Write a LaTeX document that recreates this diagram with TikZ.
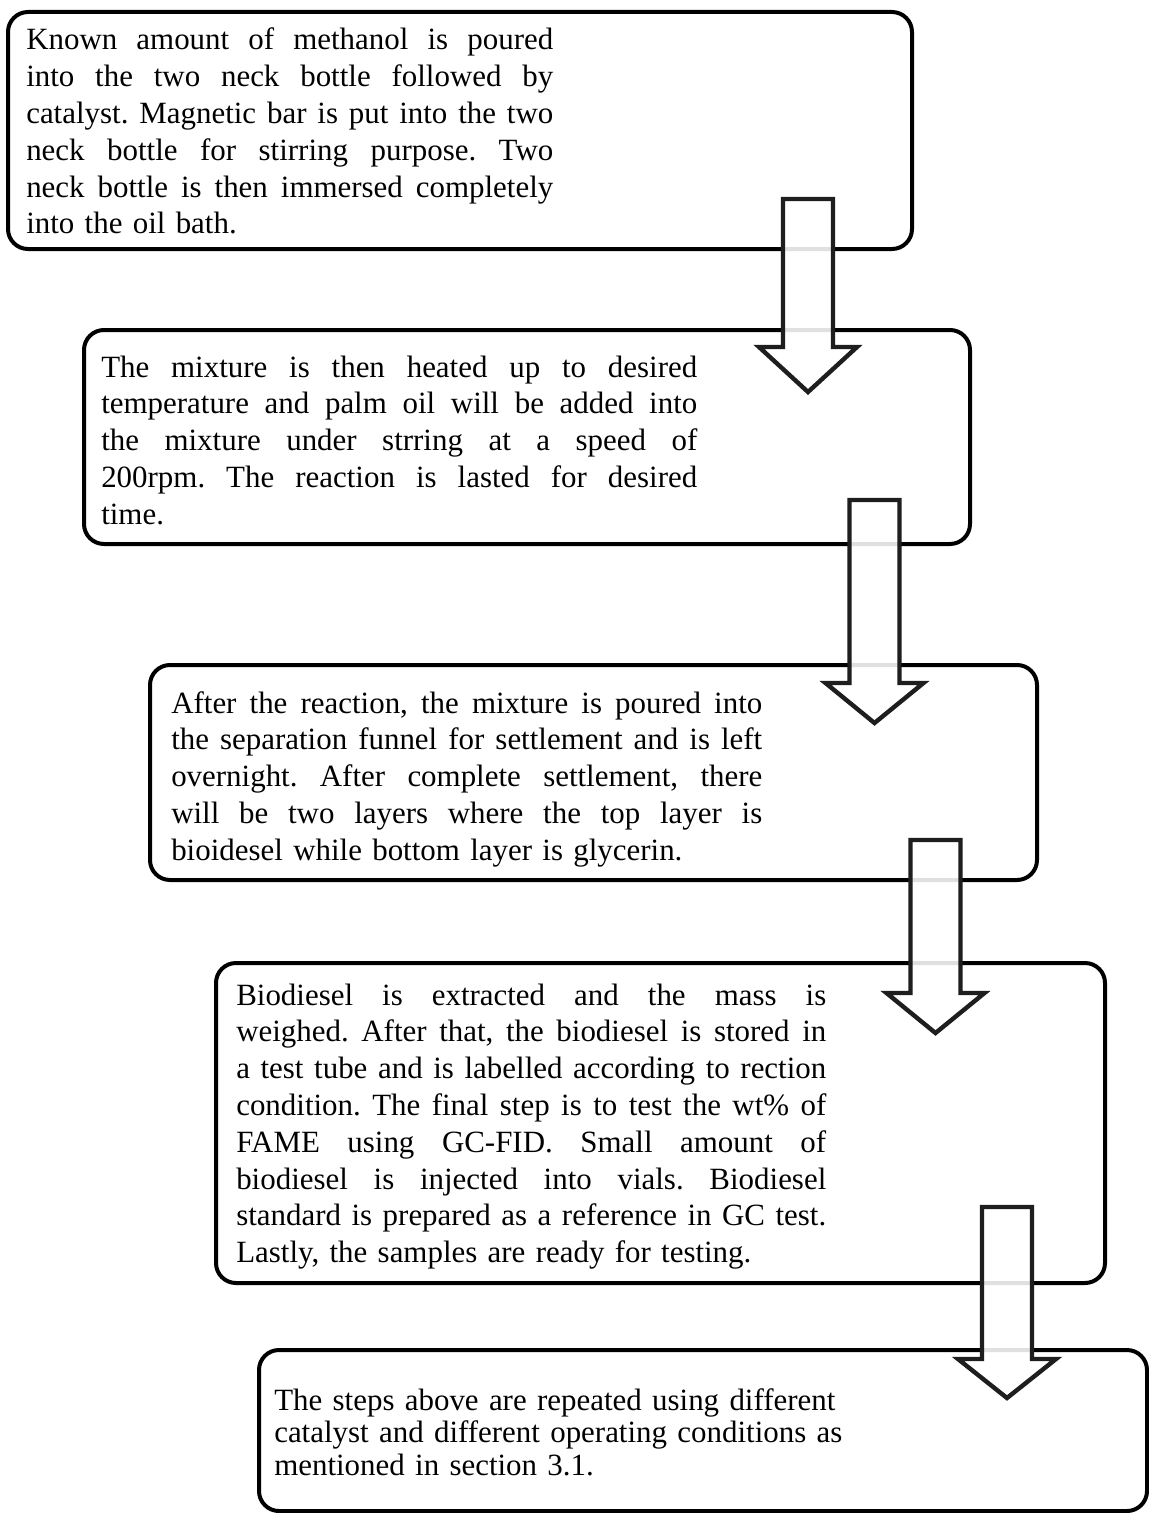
\documentclass[tikz,border=0pt]{standalone}
\usepackage{fontspec}
\setmainfont{Liberation Serif}
\frenchspacing
\newlength{\stepwd}
\newcommand{\jline}[1]{\hbox to \stepwd{\spaceskip=0.25em plus 1fil\relax #1}\par}
\newcommand{\downarrowshape}[4]{%
  \draw[blockarrow] (#1-25,#2) -- (#1+25,#2) -- (#1+25,#3) -- (#1+49,#3) -- (#1,#4) -- (#1-49,#3) -- (#1-25,#3) -- cycle ;}

\begin{document}
\begin{tikzpicture}[x=0.75pt,y=0.75pt,yscale=-1,xscale=1,
  stepbox/.style={draw=black,line width=3pt,rounded corners=15pt},
  steptext/.style={anchor=base west,inner sep=0pt,text width=#1,execute at begin node={\setlength{\stepwd}{#1}},node font=\fontsize{23.2pt}{27.6pt}\selectfont\frenchspacing},
  blockarrow/.style={draw={rgb,255:red,30;green,30;blue,30},line width=3.3pt,fill=white,fill opacity=0.88,miter limit=10}]
\useasboundingbox (0,0) rectangle (1149,1513);
			%Shape: Rounded Rect 1
			\draw[stepbox] (8,12) rectangle (912,249) ;
			%Shape: Rounded Rect 2
			\draw[stepbox] (84,330) rectangle (970,544) ;
			%Shape: Rounded Rect 3
			\draw[stepbox] (150,665) rectangle (1037,880) ;
			%Shape: Rounded Rect 4
			\draw[stepbox] (216,963) rectangle (1105,1283) ;
			%Shape: Rounded Rect 5
			\draw[stepbox] (259,1350) rectangle (1147,1511) ;
			% Text Node
			\draw (26,50) node (mixing) [steptext=395.25pt] {\jline{Known amount of methanol is poured}\jline{into the two neck bottle followed by}\jline{catalyst. Magnetic bar is put into the two}\jline{neck bottle for stirring purpose. Two}\jline{neck bottle is then immersed completely}into the oil bath.};
			% Text Node
			\draw (101,377) node (heating) [steptext=447pt] {\jline{The mixture is then heated up to desired}\jline{temperature and palm oil will be added into}\jline{the mixture under strring at a speed of}\jline{200rpm. The reaction is lasted for desired}time.};
			% Text Node
			\draw (171,713) node (settling) [steptext=443.25pt] {\jline{After the reaction, the mixture is poured into}\jline{the separation funnel for settlement and is left}\jline{overnight. After complete settlement, there}\jline{will be two layers where the top layer is}bioidesel while bottom layer is glycerin.};
			% Text Node
			\draw (236,1005) node (testing) [steptext=442.5pt] {\jline{Biodiesel is extracted and the mass is}\jline{weighed. After that, the biodiesel is stored in}\jline{a test tube and is labelled according to rection}\jline{condition. The final step is to test the wt\% of}\jline{FAME using GC-FID. Small amount of}\jline{biodiesel is injected into vials. Biodiesel}\jline{standard is prepared as a reference in GC test.}Lastly, the samples are ready for testing.};
			% Text Node
			\draw (274,1410) node (repeat) [steptext=470pt,node font=\fontsize{23.2pt}{24.4pt}\selectfont\frenchspacing] {The steps above are repeated using different\\catalyst and different operating conditions as\\mentioned in section 3.1.};
			%Shape: Down Arrow 1
			\downarrowshape{808}{199}{347}{392}
			%Shape: Down Arrow 2
			\downarrowshape{874.5}{500}{683}{723}
			%Shape: Down Arrow 3
			\downarrowshape{935.5}{840}{993}{1033}
			%Shape: Down Arrow 4
			\downarrowshape{1007}{1207}{1359}{1398}
\end{tikzpicture}
\end{document}
